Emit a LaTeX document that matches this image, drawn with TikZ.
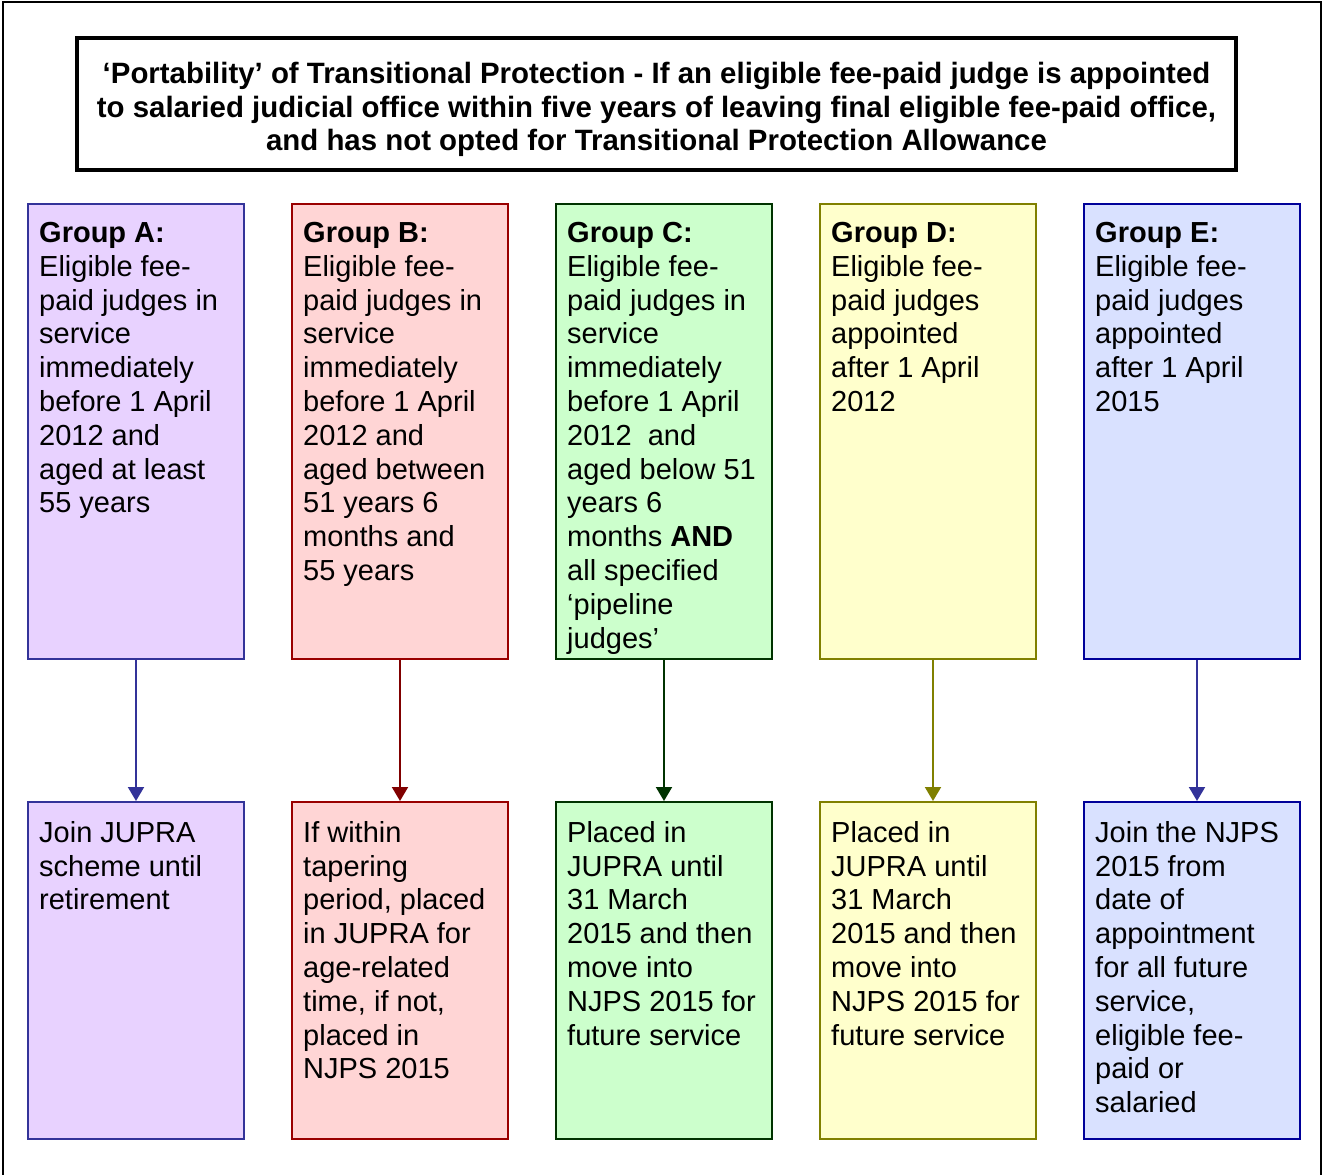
\documentclass[tikz,border=0pt]{standalone}
\usepackage{fontspec}
\setmainfont{Liberation Sans}
\usetikzlibrary{arrows.meta}
\definecolor{aFill}{HTML}{E8D2FF}\definecolor{aLine}{HTML}{333399}
\definecolor{bFill}{HTML}{FFD5D5}\definecolor{bLine}{HTML}{990000}\definecolor{bArr}{HTML}{800000}
\definecolor{cFill}{HTML}{CCFFCC}\definecolor{cLine}{HTML}{003300}
\definecolor{dFill}{HTML}{FFFFCC}\definecolor{dLine}{HTML}{808000}
\definecolor{eFill}{HTML}{D9E1FF}\definecolor{eLine}{HTML}{000099}\definecolor{eArr}{HTML}{333399}
\begin{document}
\begin{tikzpicture}[x=1pt,y=-1pt,
  topbox/.style={draw, line width=2pt, minimum width=216pt, minimum height=455pt, inner sep=0pt, anchor=north west},
  botbox/.style={draw, line width=2pt, minimum width=216pt, minimum height=337pt, inner sep=0pt, anchor=north west},
  boxtext/.style={anchor=north west, inner sep=0pt, align=left, font=\fontsize{29}{33.8}\selectfont},
  conn/.style={line width=2pt, -{Triangle[length=14pt,width=16pt]}}]
\useasboundingbox (0,0) rectangle (1323,1175);
\draw[line width=2pt] (3,1175) -- (3,2) -- (1321,2) -- (1321,1175);
\node[draw, line width=3.5pt, minimum width=1159pt, minimum height=132pt, inner sep=0pt] (title) at (656.5,104) {};
\node[align=center, inner sep=0pt, font=\fontsize{29.4}{33.5}\selectfont\bfseries] (titletext) at (656.5,109.5)
 {‘Portability’ of Transitional Protection - If an eligible fee-paid judge is appointed\\
  to salaried judicial office within five years of leaving final eligible fee-paid office,\\
  and has not opted for Transitional Protection Allowance};
% top boxes
\node[topbox, fill=aFill, draw=aLine] (ta) at (27,203) {};
\node[topbox, fill=bFill, draw=bLine] (tb) at (291,203) {};
\node[topbox, fill=cFill, draw=cLine] (tc) at (555,203) {};
\node[topbox, fill=dFill, draw=dLine] (td) at (819,203) {};
\node[topbox, fill=eFill, draw=eLine] (te) at (1083,203) {};
% bottom boxes
\node[botbox, fill=aFill, draw=aLine] (ba) at (27,801) {};
\node[botbox, fill=bFill, draw=bLine] (bb) at (291,801) {};
\node[botbox, fill=cFill, draw=cLine] (bc) at (555,801) {};
\node[botbox, fill=dFill, draw=dLine] (bd) at (819,801) {};
\node[botbox, fill=eFill, draw=eLine] (be) at (1083,801) {};
% texts
\node[boxtext] (tta) at (39,222) {\textbf{Group A:}\\Eligible fee-\\paid judges in\\service\\immediately\\before 1 April\\2012 and\\aged at least\\55 years};
\node[boxtext] (ttb) at (303,222) {\textbf{Group B:}\\Eligible fee-\\paid judges in\\service\\immediately\\before 1 April\\2012 and\\aged between\\51 years 6\\months and\\55 years};
\node[boxtext] (ttc) at (567,222) {\textbf{Group C:}\\Eligible fee-\\paid judges in\\service\\immediately\\before 1 April\\2012\ \ and\\aged below 51\\years 6\\months \textbf{AND}\\all specified\\‘pipeline\\judges’};
\node[boxtext] (ttd) at (831,222) {\textbf{Group D:}\\Eligible fee-\\paid judges\\appointed\\after 1 April\\2012};
\node[boxtext] (tte) at (1095,222) {\textbf{Group E:}\\Eligible fee-\\paid judges\\appointed\\after 1 April\\2015};
\node[boxtext] (bta) at (39,821) {Join JUPRA\\scheme until\\retirement};
\node[boxtext] (btb) at (303,821) {If within\\tapering\\period, placed\\in JUPRA for\\age-related\\time, if not,\\placed in\\NJPS 2015};
\node[boxtext] (btc) at (567,821) {Placed in\\JUPRA until\\31 March\\2015 and then\\move into\\NJPS 2015 for\\future service};
\node[boxtext] (btd) at (831,821) {Placed in\\JUPRA until\\31 March\\2015 and then\\move into\\NJPS 2015 for\\future service};
\node[boxtext] (bte) at (1095,821) {Join the NJPS\\2015 from\\date of\\appointment\\for all future\\service,\\eligible fee-\\paid or\\salaried};
% connectors
\draw[conn, draw=aLine, fill=aLine] (ta.south) -- (ba.north);
\draw[conn, draw=bArr, fill=bArr] (tb.south) -- (bb.north);
\draw[conn, draw=cLine, fill=cLine] (tc.south) -- (bc.north);
\draw[conn, draw=dLine, fill=dLine] ([xshift=5pt]td.south) -- ([xshift=5pt]bd.north);
\draw[conn, draw=eArr, fill=eArr] ([xshift=5pt]te.south) -- ([xshift=5pt]be.north);
\end{tikzpicture}
\end{document}
